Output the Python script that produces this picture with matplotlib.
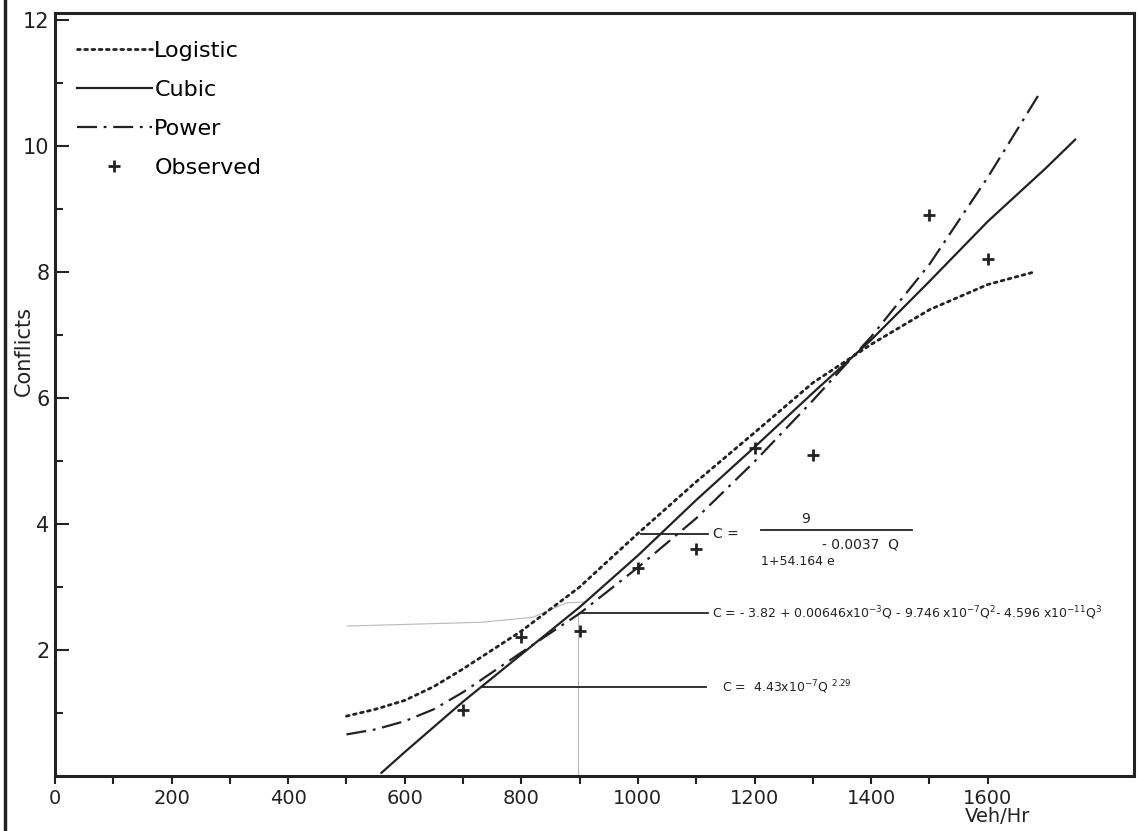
import matplotlib
matplotlib.use("Agg")
import matplotlib.pyplot as plt
from matplotlib.lines import Line2D

plt.rcParams['font.family'] = ['DejaVu Sans']
plt.rcParams['mathtext.default'] = 'regular'

# values
logistic_q = [500, 550, 600, 650, 700, 800, 900, 1000, 1100, 1200, 1300, 1400, 1500, 1600, 1680]
logistic_c = [0.95, 1.06, 1.2, 1.42, 1.7, 2.3, 3.0, 3.85, 4.67, 5.45, 6.24, 6.85, 7.4, 7.8, 8.0]

cubic_q = [560, 600, 700, 800, 900, 1000, 1100, 1200, 1300, 1400, 1500, 1600, 1700, 1750]
cubic_c = [0.05, 0.38, 1.18, 1.93, 2.68, 3.5, 4.38, 5.22, 6.08, 6.92, 7.85, 8.8, 9.65, 10.1]

power_q = [500, 550, 600, 650, 700, 800, 900, 1000, 1100, 1200, 1300, 1400, 1500, 1600, 1690]
power_c = [0.66, 0.74, 0.87, 1.06, 1.33, 1.96, 2.58, 3.31, 4.09, 4.99, 5.96, 6.97, 8.12, 9.5, 10.85]

obs_q = [700, 800, 900, 1000, 1100, 1200, 1300, 1500, 1600]
obs_c = [1.05, 2.2, 2.3, 3.3, 3.6, 5.2, 5.1, 8.9, 8.2]

# faint pencil marks on the scan
ghost_q = [501, 732, 820, 878, 906]
ghost_c = [2.38, 2.44, 2.52, 2.75, 2.76]

ink = '#222222'

fig = plt.figure(figsize=(11.38, 8.31), dpi=100)
ax = fig.add_axes([55/1138, 55/831, 1079/1138, 763/831])

ax.plot(ghost_q, ghost_c, color='#b8b8b8', lw=0.8)
ax.plot([897, 897], [0, 2.6], color='#b8b8b8', lw=0.8)

ax.plot(logistic_q, logistic_c, color=ink, lw=2, linestyle=(0, (1, 1.6)),
        dash_capstyle='round', label='Logistic')
ax.plot(cubic_q, cubic_c, color=ink, lw=1.6, label='Cubic')
ax.plot(power_q, power_c, color=ink, lw=1.6, linestyle=(0, (9, 3, 1.3, 3)), label='Power')
ax.plot(obs_q, obs_c, linestyle='none', marker='+', markersize=9, mew=2,
        color=ink, label='Observed')

# equation call-outs
ax.plot([1005, 1120], [3.84, 3.84], color=ink, lw=1.3)
ax.text(1129, 3.84, 'C =', fontsize=10, va='center', color=ink)
ax.text(1288, 4.08, '9', fontsize=10, ha='center', va='center', color=ink)
ax.plot([1211, 1470], [3.9, 3.9], color=ink, lw=1.3)
ax.text(1211, 3.4, '1+54.164 e', fontsize=9, va='center', color=ink)
ax.text(1316, 3.67, '- 0.0037  Q', fontsize=10, va='center', color=ink)

ax.plot([904, 1120], [2.59, 2.59], color=ink, lw=1.3)
ax.text(1127, 2.59,
        r'C = - 3.82 + 0.00646x10$^{-3}$Q - 9.746 x10$^{-7}$Q$^{2}$- 4.596 x10$^{-11}$Q$^{3}$',
        fontsize=9, va='center', color=ink)

ax.plot([732, 1117], [1.41, 1.41], color=ink, lw=1.3)
ax.text(1144, 1.41, r'C =  4.43x10$^{-7}$Q $^{2.29}$', fontsize=9, va='center', color=ink)

ax.set_xlim(0, 1851)
ax.set_ylim(0, 12.11)
ax.set_xticks(range(0, 1601, 200))
ax.set_xticks(range(100, 1600, 200), minor=True)
ax.set_yticks([2, 4, 6, 8, 10, 12])
ax.set_yticks([1, 3, 5, 7, 9, 11], minor=True)
ax.tick_params(axis='x', which='both', direction='out', length=6, width=1.5,
               labelsize=14, pad=3, colors=ink)
ax.tick_params(axis='y', which='major', direction='in', length=10, width=1.5,
               labelsize=15, pad=4, colors=ink)
ax.tick_params(axis='y', which='minor', direction='in', length=6, width=1.5, colors=ink)
for s in ax.spines.values():
    s.set_linewidth(2.2)
    s.set_color(ink)

ax.legend(loc='upper left', bbox_to_anchor=(0.02, 0.963), frameon=False,
          fontsize=16, handlelength=3.4, handletextpad=0.1, labelspacing=0.85,
          borderpad=0, borderaxespad=0)

fig.text(998/1138, 1 - 817/831, 'Veh/Hr', ha='center', va='center', fontsize=14, color=ink)
fig.text(24/1138, 1 - 351/831, 'Conflicts', rotation=90, ha='center', va='center',
         fontsize=15, color=ink)
fig.add_artist(Line2D([5/1138, 5/1138], [0, 1], transform=fig.transFigure, lw=2.5, color=ink))

plt.savefig('out.png', dpi=100)
